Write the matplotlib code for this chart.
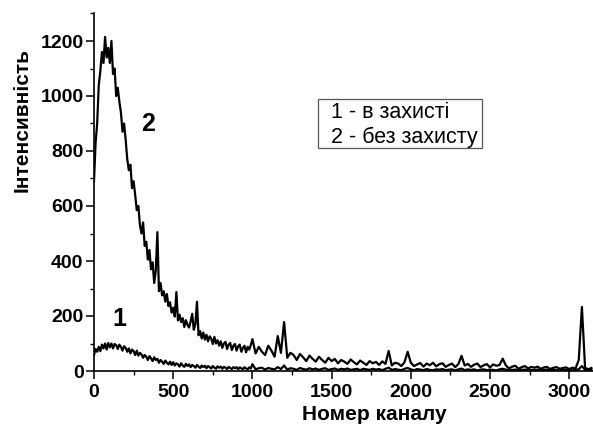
#!/usr/bin/env python3
"""Gamma spectra: with and without shielding (channel vs intensity)."""

import numpy as np
import matplotlib
matplotlib.use("Agg")
import matplotlib.pyplot as plt
from matplotlib.patches import Rectangle
from matplotlib.ticker import MultipleLocator

CHANNELS_FINE = np.arange(0, 1000, 10)
CHANNELS_COARSE = np.arange(1000, 3160, 20)

# curve 2 - without shielding, channels 0..990 step 10
NO_SHIELD_FINE = [
    690, 830, 900, 1040, 1090, 1160, 1120, 1215, 1140, 1175,
    1120, 1200, 1080, 1100, 1000, 1030, 980, 940, 870, 900,
    840, 770, 730, 750, 665, 690, 640, 585, 600, 530,
    500, 540, 455, 470, 405, 440, 370, 395, 320, 365,
    505, 290, 320, 275, 290, 252, 280, 236, 250, 212,
    230, 198, 287, 184, 205, 178, 192, 160, 185, 168,
    158, 180, 208, 150, 170, 252, 130, 145, 118, 140,
    114, 132, 108, 126, 118, 98, 124, 100, 112, 92,
    108, 84, 100, 106, 80, 96, 102, 76, 92, 98,
    74, 90, 96, 70, 84, 92, 68, 88, 78, 94,
]
# curve 2, channels 1000..3140 step 20
NO_SHIELD_COARSE = [
    116, 64, 88, 70, 58, 92, 74, 52, 127, 66,
    178, 48, 66, 58, 40, 62, 50, 36, 56, 44,
    34, 52, 40, 30, 48, 36, 44, 28, 40, 34,
    26, 42, 32, 24, 38, 30, 22, 36, 28, 33,
    22, 35, 26, 73, 20, 30, 27, 18, 32, 70,
    30, 18, 24, 29, 16, 27, 21, 30, 17, 25,
    28, 15, 22, 27, 14, 25, 55, 20, 26, 15,
    23, 27, 14, 21, 25, 13, 24, 19, 22, 45,
    20, 9, 16, 19, 8, 14, 18, 9, 15, 12,
    16, 8, 13, 15, 7, 12, 14, 8, 11, 13,
    7, 12, 10, 40, 233, 12, 6, 11,
]

# curve 1 - in shielding, channels 0..990 step 10
SHIELD_FINE = [
    58, 80, 70, 88, 72, 96, 82, 100, 78, 102,
    86, 100, 82, 98, 94, 80, 96, 88, 74, 90,
    84, 70, 82, 64, 78, 72, 58, 74, 56, 66,
    60, 48, 58, 52, 40, 54, 46, 36, 50, 40,
    44, 30, 40, 34, 26, 38, 30, 24, 34, 22,
    32, 20, 28, 24, 16, 28, 20, 15, 26, 18,
    24, 14, 22, 18, 12, 22, 16, 11, 20, 14,
    19, 10, 18, 14, 9, 18, 12, 8, 17, 12,
    16, 8, 15, 12, 7, 15, 11, 7, 14, 10,
    14, 6, 13, 10, 6, 14, 9, 6, 13, 9,
]
# curve 1, channels 1000..3140 step 20
SHIELD_COARSE = [
    25, 6, 10, 12, 5, 11, 8, 6, 14, 7,
    20, 5, 10, 8, 4, 11, 7, 5, 10, 6,
    9, 4, 8, 10, 4, 7, 9, 4, 8, 6,
    9, 4, 6, 8, 3, 8, 6, 4, 8, 5,
    7, 3, 8, 12, 4, 7, 5, 3, 8, 11,
    6, 3, 7, 5, 3, 7, 4, 3, 6, 5,
    7, 3, 5, 6, 2, 6, 9, 3, 6, 4,
    6, 2, 5, 6, 3, 5, 4, 2, 6, 8,
    5, 2, 4, 5, 2, 4, 5, 2, 4, 3,
    5, 2, 4, 5, 2, 4, 3, 2, 5, 3,
    4, 2, 5, 6, 18, 4, 2, 4,
]

X_TICKS = [0, 500, 1000, 1500, 2000, 2500, 3000]
Y_TICKS = [0, 200, 400, 600, 800, 1000, 1200]
LEGEND_LINES = ["1 - в захисті", "2 - без захисту"]

W, H = 593, 425
FONT = "Liberation Sans"


def px(x, y):
    """Pixel position (from top-left) to figure fraction."""
    return x / W, 1 - y / H


def main():
    channels = np.concatenate([CHANNELS_FINE, CHANNELS_COARSE])
    no_shield = np.array(NO_SHIELD_FINE + NO_SHIELD_COARSE)
    shield = np.array(SHIELD_FINE + SHIELD_COARSE)

    fig = plt.figure(figsize=(W / 100, H / 100), dpi=100)
    left, bottom = px(94, 371)
    _, top = px(0, 13.5)
    ax = fig.add_axes([left, bottom, 499 / W, top - bottom])

    ax.plot(channels, no_shield, color="black", lw=1.6)
    ax.plot(channels, shield, color="black", lw=1.6)

    ax.set_xlim(0, 3150)
    ax.set_ylim(0, 1300)
    ax.set_xticks(X_TICKS)
    ax.set_yticks(Y_TICKS)
    ax.xaxis.set_minor_locator(MultipleLocator(250))
    ax.yaxis.set_minor_locator(MultipleLocator(100))
    ax.tick_params(which="major", direction="out", length=5.5, width=1.1)
    ax.tick_params(which="minor", direction="out", length=2.8, width=1.0)
    for lab in ax.get_xticklabels() + ax.get_yticklabels():
        lab.set_fontfamily(FONT)
        lab.set_fontweight("bold")
        lab.set_fontsize(14)
    ax.tick_params(axis="x", pad=4)
    ax.tick_params(axis="y", pad=2)

    for side in ("top", "right"):
        ax.spines[side].set_visible(False)
    for side in ("left", "bottom"):
        ax.spines[side].set_linewidth(1.2)

    ax.text(341, 898, "2", fontsize=18, fontweight="bold", family=FONT,
            ha="center", va="center")
    ax.text(158, 189, "1", fontsize=18, fontweight="bold", family=FONT,
            ha="center", va="center")

    fig.text(*px(22, 120), "Інтенсивність", rotation=90, fontsize=15,
             fontweight="bold", family=FONT, ha="center", va="center")
    fig.text(*px(374, 415), "Номер каналу", fontsize=15,
             fontweight="bold", family=FONT, ha="center", va="center")

    # legend box
    x0, y0 = px(318, 148)
    x1, y1 = px(482, 99)
    fig.patches.append(Rectangle((x0, y0), x1 - x0, y1 - y0,
                                 transform=fig.transFigure, fill=False,
                                 edgecolor="#555555", lw=0.9))
    for line, base in zip(LEGEND_LINES, (118, 143)):
        fig.text(*px(331, base), line, fontsize=15.5, family=FONT,
                 ha="left", va="baseline")

    fig.savefig("out.png", dpi=100)


if __name__ == "__main__":
    main()
